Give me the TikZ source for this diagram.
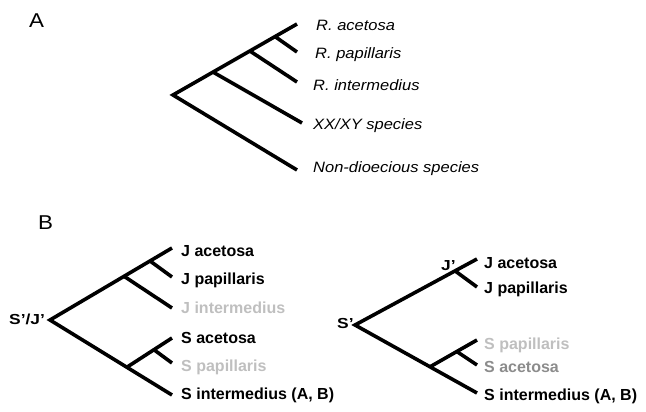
\documentclass[tikz,border=0pt]{standalone}
\usepackage{fontspec}
\usetikzlibrary{calc}
\setmainfont{Liberation Sans}
\newfontfamily\widefont[FakeStretch=1.1]{Liberation Sans}
\newfontfamily\panelfont[FakeStretch=1.12]{Liberation Sans}
\newfontfamily\markfont[FakeStretch=1.2]{Liberation Sans}
\definecolor{lightgrey}{gray}{0.75}
\definecolor{midgrey}{gray}{0.55}
\tikzset{
  branch/.style={line width=3.6pt, line cap=butt, line join=miter},
  panel/.style={anchor=base west, inner sep=0pt, font=\panelfont\fontsize{20}{22}\selectfont},
  taxonA/.style={anchor=base west, inner sep=0pt, font=\widefont\itshape\fontsize{15}{17}\selectfont},
  taxonB/.style={anchor=base west, inner sep=0pt, font=\bfseries\fontsize{16}{18}\selectfont},
  cladelab/.style={anchor=base west, inner sep=0pt, font=\markfont\bfseries\fontsize{14.5}{16}\selectfont},
}
\begin{document}
\begin{tikzpicture}[x=1pt, y=-1pt]
  \useasboundingbox (0,0) rectangle (646,412);

  % ---------- Panel A ----------
  \node[panel] (labA) at (29,28) {A};
  \coordinate (ar) at (173,95);
  \coordinate (aAce) at (297,24);
  \coordinate (aPap) at (297,52);
  \coordinate (aInt) at (297,82);
  \coordinate (aXY) at (302,123);
  \coordinate (aNon) at (297,170);
  \coordinate (an1) at ($(ar)!0.323!(aAce)$);
  \coordinate (an2) at ($(ar)!0.62!(aAce)$);
  \coordinate (an3) at ($(ar)!0.823!(aAce)$);
  \draw[branch] (aAce) -- (ar) -- (aNon);
  \draw[branch] (an1) -- (aXY);
  \draw[branch] (an2) -- (aInt);
  \draw[branch] (an3) -- (aPap);

  \node[taxonA] (tAce) at (316,31) {R. acetosa};
  \node[taxonA] (tPap) at (315,59) {R. papillaris};
  \node[taxonA] (tInt) at (313,91) {R. intermedius};
  \node[taxonA] (tXY) at (313,130) {XX/XY species};
  \node[taxonA] (tNon) at (313,172) {Non-dioecious species};

  % ---------- Panel B, left tree ----------
  \node[panel] (labB) at (38,229) {B};
  \coordinate (lr) at (50,320);
  \coordinate (lJa) at (172,248);
  \coordinate (lJp) at (172,277);
  \coordinate (lJi) at (172,308);
  \coordinate (lSa) at (172,338);
  \coordinate (lSp) at (172,363);
  \coordinate (lSi) at (172,395);
  \coordinate (lJn) at ($(lr)!0.607!(lJa)$);
  \coordinate (lJap) at ($(lr)!0.82!(lJa)$);
  \coordinate (lSn) at ($(lr)!0.63!(lSi)$);
  \coordinate (lSap) at ($(lSn)!0.6!(lSa)$);
  \draw[branch] (lJa) -- (lr) -- (lSi);
  \draw[branch] (lJn) -- (lJi);
  \draw[branch] (lJap) -- (lJp);
  \draw[branch] (lSn) -- (lSa);
  \draw[branch] (lSap) -- (lSp);

  \node[cladelab] (lroot) at (9,324) {S’/J’};
  \node[taxonB] (lJaT) at (181,256) {J acetosa};
  \node[taxonB] (lJpT) at (181,284) {J papillaris};
  \node[taxonB, text=lightgrey] (lJiT) at (181,313) {J intermedius};
  \node[taxonB] (lSaT) at (181,343) {S acetosa};
  \node[taxonB, text=lightgrey] (lSpT) at (181,371) {S papillaris};
  \node[taxonB] (lSiT) at (181,399) {S intermedius (A, B)};

  % ---------- Panel B, right tree ----------
  \coordinate (rr) at (355,325);
  \coordinate (rJa) at (477,259);
  \coordinate (rJp) at (477,287);
  \coordinate (rSp) at (477,340);
  \coordinate (rSa) at (477,365);
  \coordinate (rSi) at (477,393);
  \coordinate (rJn) at ($(rr)!0.82!(rJa)$);
  \coordinate (rSn) at ($(rr)!0.615!(rSi)$);
  \coordinate (rSin) at ($(rSn)!0.57!(rSp)$);
  \draw[branch] (rJa) -- (rr) -- (rSi);
  \draw[branch] (rJn) -- (rJp);
  \draw[branch] (rSn) -- (rSp);
  \draw[branch] (rSin) -- (rSa);

  \node[cladelab] (rroot) at (337,328) {S’};
  \node[cladelab] (rJlab) at (441,270) {J’};
  \node[taxonB] (rJaT) at (484,268) {J acetosa};
  \node[taxonB] (rJpT) at (484,293) {J papillaris};
  \node[taxonB, text=lightgrey] (rSpT) at (484,349) {S papillaris};
  \node[taxonB, text=midgrey] (rSaT) at (484,372) {S acetosa};
  \node[taxonB] (rSiT) at (484,400) {S intermedius (A, B)};
\end{tikzpicture}
\end{document}
